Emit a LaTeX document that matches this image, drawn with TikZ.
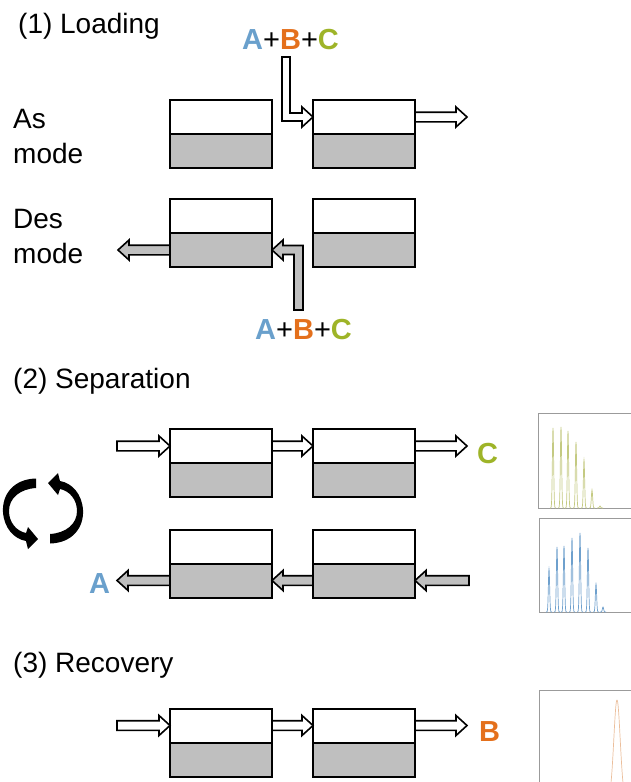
\documentclass[tikz,border=0pt]{standalone}
\usepackage{fontspec}
\setmainfont{Liberation Sans}
\usetikzlibrary{calc}

\definecolor{cA}{RGB}{106,160,204}
\definecolor{cB}{RGB}{228,112,28}
\definecolor{cC}{RGB}{158,180,40}
\definecolor{phase}{RGB}{191,191,191}
\definecolor{frame}{RGB}{155,155,155}
\definecolor{trC}{RGB}{196,202,130}
\definecolor{trA}{RGB}{110,160,205}
\definecolor{trB}{RGB}{235,190,155}

\tikzset{
  mobile/.style={draw, line width=2pt, fill=white, minimum width=102pt,
    minimum height=34pt, inner sep=0pt, outer sep=0pt},
  stationary/.style={mobile, fill=phase},
  label/.style={inner sep=0pt, anchor=base west, font=\fontsize{28}{32}\selectfont},
  species/.style={inner sep=0pt, anchor=base west, font=\fontsize{29}{32}\selectfont\bfseries},
  hollow/.style={draw, line width=1.6pt, fill=white, line join=miter},
  filled/.style={draw, line width=1.6pt, fill=phase, line join=miter},
  panel/.style={draw=frame, line width=1pt},
  trace/.style={line width=0.7pt},
}

% a column: white mobile-phase half on top of a grey stationary half
\newcommand\colpair[3]{%
  \node[mobile] (#1t) at (#2,#3) {};
  \node[stationary, anchor=north] (#1b) at (#1t.south) {};
}

% straight block arrow from #2 to #3 (tip at #3), style #1
\newcommand\harrow[3]{%
  \path[#1] let \p1=#2, \p2=#3, \n1={ifthenelse(\x2>\x1,1,-1)} in
    (\x1,{\y1+4.8pt}) -- ({\x2-\n1*11pt},{\y1+4.8pt}) -- ({\x2-\n1*11pt},{\y1+10pt})
    -- (\x2,\y1) -- ({\x2-\n1*11pt},{\y1-10pt}) -- ({\x2-\n1*11pt},{\y1-4.8pt})
    -- (\x1,{\y1-4.8pt}) -- cycle;
}

% curved switching arrow (one half of the cycle symbol)
\newcommand\turnarrow{%
  \fill (36,478.5) .. controls (14,479) and (2,494) .. (3,512)
    .. controls (4,528) and (14,539) .. (26,541)
    -- (28,549) -- (38,539) -- (28,527) -- (26,533)
    .. controls (16,531) and (9,522) .. (9,511)
    .. controls (9,498) and (20,489) .. (36,488) -- cycle;
}

\begin{document}
\begin{tikzpicture}[x=1pt,y=-1pt]
\useasboundingbox (0,0) rectangle (631,782);
\clip (0,0) rectangle (631,782);

% ---------- (1) Loading ----------
\node[label] (t1) at (18,33) {(1) Loading};
\node[label] (as) at (13,128) {As};
\node[label] (asm) at (13,163) {mode};
\node[label] (des) at (13,228) {Des};
\node[label] (desm) at (13,263) {mode};

\node[species] (mixTop) at (242,49)
  {\textcolor{cA}{A}\textmd{+}\textcolor{cB}{B}\textmd{+}\textcolor{cC}{C}};
\node[species] (mixBot) at (255,339)
  {\textcolor{cA}{A}\textmd{+}\textcolor{cB}{B}\textmd{+}\textcolor{cC}{C}};

\colpair{a1}{221}{117}
\colpair{a2}{364}{117}
\colpair{d1}{221}{216}
\colpair{d2}{364}{216}

\coordinate (feedTop) at (286,57);
\coordinate (feedBot) at (298.5,310);
\coordinate (asOut) at (467,117);
\coordinate (desOut) at (118,250.5);

% feed into the second column (As mode)
\path[hollow] let \p1=(feedTop), \p2=(a2t.west) in
  ({\x1-4pt},\y1) -- ({\x1+4pt},\y1) -- ({\x1+4pt},{\y2+4pt}) -- ({\x2-11pt},{\y2+4pt})
  -- ({\x2-11pt},{\y2+10pt}) -- (\x2,\y2) -- ({\x2-11pt},{\y2-10pt})
  -- ({\x2-11pt},{\y2-4pt}) -- ({\x1-4pt},{\y2-4pt}) -- cycle;
\harrow{hollow}{(a2t.east)}{(asOut)}

% feed into the first column (Des mode)
\path[filled] let \p1=(feedBot), \p2=(d1b.east) in
  ({\x1-4.5pt},\y1) -- ({\x1+4.5pt},\y1) -- ({\x1+4.5pt},{\y2+4.5pt}) -- ({\x2+11pt},{\y2+4.5pt})
  -- ({\x2+11pt},{\y2+10pt}) -- (\x2,\y2) -- ({\x2+11pt},{\y2-10pt})
  -- ({\x2+11pt},{\y2-4.5pt}) -- ({\x1-4.5pt},{\y2-4.5pt}) -- cycle;
\harrow{filled}{(d1b.west)}{(desOut)}

% ---------- (2) Separation ----------
\node[label] (t2) at (13,388) {(2) Separation};

\colpair{s1}{221}{446}
\colpair{s2}{364}{446}
\colpair{r1}{221}{546.5}
\colpair{r2}{364}{546.5}

\coordinate (sIn) at (117,446);
\coordinate (sOut) at (467,446);
\coordinate (rIn) at (469,580.5);
\coordinate (rOut) at (117,580.5);

\harrow{hollow}{(sIn)}{(s1t.west)}
\harrow{hollow}{(s1t.east)}{(s2t.west)}
\harrow{hollow}{(s2t.east)}{(sOut)}
\node[species] (prodC) at (477,463) {\textcolor{cC}{C}};

\harrow{filled}{(rIn)}{(r2b.east)}
\harrow{filled}{(r2b.west)}{(r1b.east)}
\harrow{filled}{(r1b.west)}{(rOut)}
\node[species] (prodA) at (89,593) {\textcolor{cA}{A}};

% switching symbol
\turnarrow
\begin{scope}[rotate around={180:(43,511)}]
  \turnarrow
\end{scope}

% chromatograms
\draw[panel] (538,413) rectangle (660,508);
\foreach \px/\py in {553/428,561/427,568/431,576/442,584/460,592/490,600/506}
  \draw[trC,trace] plot[domain=\px-3:\px+3, samples=25, smooth]
    (\x,{508-(508-\py)*exp(-((\x-\px)^2)/0.8)});

\draw[panel] (539,518) rectangle (660,612);
\foreach \px/\py in {549/569,557/547,564/546,572/538,580/533,588/548,596/584,603/607}
  \draw[trA,trace] plot[domain=\px-3:\px+3, samples=25, smooth]
    (\x,{612-(612-\py)*exp(-((\x-\px)^2)/0.8)});

% ---------- (3) Recovery ----------
\node[label] (t3) at (13,672) {(3) Recovery};

\colpair{v1}{221}{725.5}
\colpair{v2}{364}{725.5}

\coordinate (vIn) at (117,725.5);
\coordinate (vOut) at (467,725.5);

\harrow{hollow}{(vIn)}{(v1t.west)}
\harrow{hollow}{(v1t.east)}{(v2t.west)}
\harrow{hollow}{(v2t.east)}{(vOut)}
\node[species] (prodB) at (479,741) {\textcolor{cB}{B}};

\draw[panel] (539,690) rectangle (660,800);
\draw[trB,trace] plot[domain=600:634, samples=90, smooth]
  (\x,{800-100*exp(-((\x-617)^2)/20.5)});
\end{tikzpicture}
\end{document}
